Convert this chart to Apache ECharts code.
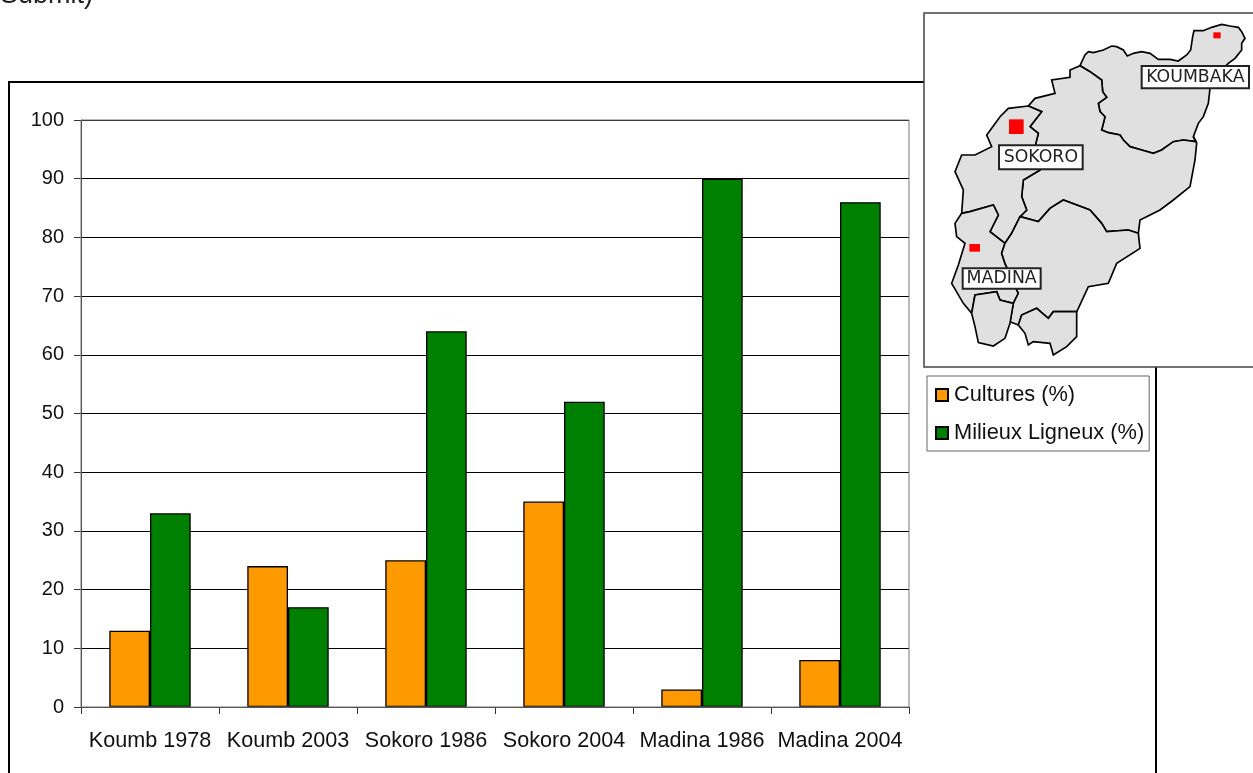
<!DOCTYPE html>
<html>
<head>
<meta charset="utf-8">
<title>Cultures et milieux ligneux</title>
<script src="https://cdn.jsdelivr.net/npm/echarts@6/dist/echarts.min.js"></script>
<style>
    html, body { margin: 0; padding: 0; background: #fff; overflow: hidden; }
    #chart { width: 1253px; height: 773px; }
</style>
</head>
<body>
<div id="chart"></div>
<script>
// valeurs
const categories = ['Koumb 1978', 'Koumb 2003', 'Sokoro 1986', 'Sokoro 2004', 'Madina 1986', 'Madina 2004'];
const cultures = [13, 24, 25, 35, 3, 8];
const milieuxLigneux = [33, 17, 64, 52, 90, 86];

// contours de la carte (calque, unite = 1/3 de pixel, origine x=920 y=0)
const frontiereEst = [[828,425],[790,420],[760,425],[725,450],[700,460],[665,450],[630,440],[610,420],[600,405],[565,398],[545,390],[550,370],[555,350],[540,335],[535,310],[560,292],[548,275],[545,240],[510,215]];
const zoneKoumbaka = [[480,197],[495,165],[505,155],[520,158],[550,150],[575,138],[590,140],[610,150],[622,168],[640,160],[665,155],[690,160],[715,178],[750,178],[775,183],[800,165],[812,150],[818,110],[822,92],[850,92],[875,82],[905,73],[930,78],[955,82],[965,95],[975,115],[965,130],[965,150],[945,175],[925,190],[880,235],[870,265],[865,310],[850,350],[835,370],[820,410]].concat(frontiereEst);
const zoneCentre = [[480,197],[450,210],[450,232],[395,240],[405,280],[345,295],[325,318],[365,335],[330,380],[355,400],[345,440],[360,510],[310,540],[305,590],[320,630],[300,650],[355,665],[390,625],[430,600],[510,630],[545,670],[560,695],[625,690],[655,700],[660,660],[720,630],[760,600],[810,560],[825,480],[830,430],[820,410]].concat(frontiereEst);
const zoneSokoro = [[325,318],[265,325],[240,350],[215,385],[200,405],[215,440],[165,465],[125,465],[105,515],[130,570],[125,640],[150,635],[220,615],[235,645],[210,695],[255,730],[275,700],[300,650],[320,630],[305,590],[310,540],[360,510],[345,440],[355,400],[330,380],[365,335]];
const zoneMadina = [[125,640],[105,670],[110,710],[135,730],[115,795],[95,850],[130,910],[155,940],[165,885],[230,875],[240,900],[280,910],[295,880],[255,790],[245,760],[255,730],[210,695],[235,645],[220,615],[150,635]];
const zoneSud = [[300,650],[355,665],[390,625],[430,600],[510,630],[545,670],[560,695],[625,690],[655,700],[660,745],[590,790],[565,850],[505,860],[475,925],[470,935],[400,935],[385,955],[350,925],[305,945],[295,975],[270,965],[280,910],[295,880],[255,790],[245,760],[255,730],[275,700]];
const zoneLobeOuest = [[155,940],[165,885],[230,875],[240,900],[280,910],[270,970],[255,1015],[220,1038],[175,1028],[165,980]];
const zoneLobeEst = [[295,975],[305,945],[350,925],[385,955],[400,935],[470,935],[470,1010],[440,1040],[400,1065],[390,1030],[340,1025],[325,1035],[315,1000]];
const zones = [zoneKoumbaka, zoneCentre, zoneSokoro, zoneMadina, zoneSud, zoneLobeOuest, zoneLobeEst];

const localites = [
    { nom: 'KOUMBAKA', x: 665, y: 198, w: 322, h: 67 },
    { nom: 'SOKORO', x: 237, y: 436, w: 251, h: 72 },
    { nom: 'MADINA', x: 128, y: 805, w: 234, h: 61 }
];
const carresRouges = [
    { x: 880, y: 97, w: 22, h: 18 },
    { x: 267, y: 358, w: 44, h: 44 },
    { x: 148, y: 732, w: 32, h: 23 }
];

const mapElements = [];
zones.forEach((points) => {
    mapElements.push({
        type: 'polygon',
        z: 11,
        shape: { points: points },
        style: { fill: '#e0e0e0', stroke: '#000', lineWidth: 5 }
    });
});
carresRouges.forEach((c) => {
    mapElements.push({ type: 'rect', z: 12, shape: { x: c.x, y: c.y, width: c.w, height: c.h }, style: { fill: '#ff0000' } });
});
localites.forEach((l) => {
    mapElements.push({
        type: 'rect',
        z: 12,
        shape: { x: l.x, y: l.y, width: l.w, height: l.h },
        style: { fill: '#fff', stroke: '#222', lineWidth: 6 }
    });
    mapElements.push({
        type: 'text',
        z: 13,
        style: {
            x: l.x + l.w / 2,
            y: l.y + l.h / 2,
            text: l.nom,
            align: 'center',
            verticalAlign: 'middle',
            fill: '#222',
            font: '52px "DejaVu Sans"'
        }
    });
});

const chart = echarts.init(document.getElementById('chart'), null, { renderer: 'canvas' });
chart.setOption({
    animation: false,
    backgroundColor: '#fff',
    textStyle: { fontFamily: '"Liberation Sans", Arial, sans-serif' },
    grid: {
        left: 81,
        right: 344,
        top: 120,
        bottom: 66,
        show: true,
        backgroundColor: 'transparent',
        borderColor: '#777',
        borderWidth: 1,
        z: 3
    },
    legend: {
        left: 927,
        top: 376,
        orient: 'vertical',
        padding: [8, 5, 7, 8],
        itemGap: 16,
        itemWidth: 12,
        itemHeight: 12,
        icon: 'rect',
        borderColor: '#666',
        borderWidth: 1,
        backgroundColor: '#fff',
        selectedMode: false,
        z: 20,
        textStyle: { fontSize: 21.8, color: '#111', padding: [0, 0, 0, 1] },
        data: ['Cultures (%)', 'Milieux Ligneux (%)']
    },
    xAxis: {
        type: 'category',
        data: categories,
        axisLine: { lineStyle: { color: '#333', width: 1 } },
        axisTick: { show: true, length: 7, alignWithLabel: false, lineStyle: { color: '#333' } },
        axisLabel: { color: '#111', fontSize: 21.6, margin: 23, interval: 0 },
        splitLine: { show: false }
    },
    yAxis: {
        type: 'value',
        min: 0,
        max: 100,
        interval: 10,
        axisLine: { show: true, lineStyle: { color: '#333', width: 1 } },
        axisTick: { show: true, length: 7, lineStyle: { color: '#333' } },
        axisLabel: { color: '#111', fontSize: 20, margin: 17 },
        splitLine: { show: true, lineStyle: { color: '#000', width: 1, type: 'solid' } }
    },
    series: [
        {
            name: 'Cultures (%)',
            type: 'bar',
            data: cultures,
            barGap: 0,
            barCategoryGap: '41%',
            itemStyle: { color: '#ff9900', borderColor: '#000', borderWidth: 1.3 }
        },
        {
            name: 'Milieux Ligneux (%)',
            type: 'bar',
            data: milieuxLigneux,
            itemStyle: { color: '#008000', borderColor: '#000', borderWidth: 1.3 }
        }
    ],
    graphic: [
        // cadre exterieur du graphique
        {
            type: 'rect',
            z: -1,
            silent: true,
            shape: { x: 9, y: 82, width: 1147, height: 760 },
            style: { fill: 'transparent', stroke: '#000', lineWidth: 2 }
        },
        // texte coupe en haut de page
        {
            type: 'text',
            z: 1,
            silent: true,
            style: { x: 0, y: -18, text: 'Submit)', fill: '#222', font: '27px "Liberation Sans"' }
        },
        // encart carte
        {
            type: 'rect',
            z: 10,
            silent: true,
            shape: { x: 924, y: 13, width: 340, height: 354 },
            style: { fill: '#fff', stroke: '#444', lineWidth: 1.5 }
        },
        {
            type: 'group',
            x: 920,
            y: 0,
            scaleX: 1 / 3,
            scaleY: 1 / 3,
            z: 11,
            silent: true,
            children: mapElements
        }
    ]
});
window.addEventListener('resize', () => chart.resize());
</script>
</body>
</html>
